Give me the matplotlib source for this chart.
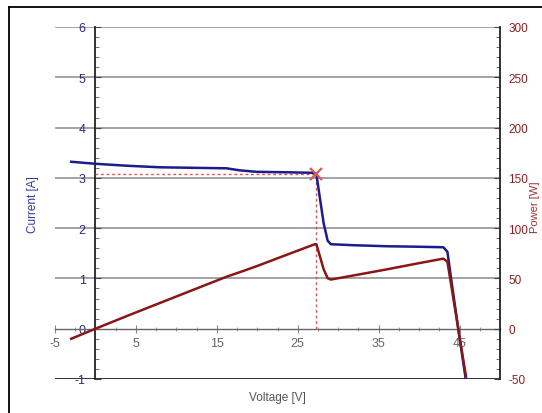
import matplotlib
matplotlib.use("Agg")
import matplotlib.pyplot as plt
from matplotlib.ticker import FixedLocator, MultipleLocator
from matplotlib.lines import Line2D

plt.rcParams['font.family'] = ['Liberation Sans', 'DejaVu Sans']

voltage = [-3.0, 0.0, 4.0, 8.0, 12.0, 16.2, 17.8, 19.9, 24.0, 27.0, 27.3, 27.6, 28.2,
           28.7, 29.1, 32.0, 36.0, 40.0, 43.0, 43.5, 44.0, 45.0, 45.8]
current = [3.32, 3.28, 3.24, 3.21, 3.20, 3.19, 3.15, 3.12, 3.11, 3.10, 3.08, 2.75, 2.10,
           1.75, 1.68, 1.66, 1.64, 1.63, 1.62, 1.53, 0.95, -0.18, -1.04]
power = [-10.0, 0.0, 13.0, 25.7, 38.4, 51.7, 56.1, 62.1, 74.6, 83.7, 84.1, 75.9, 59.2,
         50.2, 48.9, 53.1, 59.0, 65.2, 69.7, 66.6, 41.8, -8.1, -47.6]
mpp_v = 27.3
mpp_i = 3.08
x_ticks = [-5, 5, 15, 25, 35, 45]
i_ticks = [-1, 0, 1, 2, 3, 4, 5, 6]
p_ticks = [-50, 0, 50, 100, 150, 200, 250, 300]

BLUE = '#1c1c8c'
RED = '#8a1616'

fig = plt.figure(figsize=(5.42, 4.14), dpi=100)
ax = fig.add_axes([55/542, 1-380/414, 445/542, 352/414])
ax.set_xlim(-5, 50)
ax.set_ylim(-1, 6)

# gridlines
for yv in i_ticks[2:]:
    ax.axhline(yv, color='#949494', lw=1.2, zorder=0.5)
ax.axhline(-1, color='#222222', lw=1.3, zorder=3)

ax.spines['top'].set_visible(False)
ax.spines['right'].set_visible(False)
ax.spines['left'].set_position(('data', 0))
ax.spines['bottom'].set_position(('data', 0))
ax.spines['left'].set_color('#222222')
ax.spines['left'].set_linewidth(1.3)
ax.spines['bottom'].set_color('#666666')
ax.spines['bottom'].set_linewidth(1.0)

ax.xaxis.set_major_locator(FixedLocator(x_ticks))
ax.xaxis.set_minor_locator(MultipleLocator(2.5))
ax.yaxis.set_major_locator(FixedLocator(i_ticks))
ax.yaxis.set_minor_locator(MultipleLocator(0.2))
ax.set_xticklabels([str(t) for t in x_ticks])
ax.set_yticklabels([str(t) for t in i_ticks])
ax.tick_params(axis='x', which='major', direction='inout', length=6, width=0.8,
               colors='#888888', labelcolor='#666666', labelsize=9, pad=3)
ax.tick_params(axis='x', which='minor', direction='inout', length=3, width=0.6, colors='#888888')
ax.tick_params(axis='y', which='major', direction='in', length=4, width=0.8,
               colors='#444444', labelcolor='#2a2a80', labelsize=9, pad=7)
ax.tick_params(axis='y', which='minor', direction='in', length=3, width=0.6, colors='#555555')

ax.plot(voltage, current, color=BLUE, lw=1.8, zorder=4, solid_joinstyle='round')
ax.plot([0, mpp_v], [mpp_i, mpp_i], color='#e05555', lw=1.0, ls=(0, (2, 2)), zorder=3)
ax.plot([mpp_v, mpp_v], [0, mpp_i], color='#e05555', lw=1.0, ls=(0, (2, 2)), zorder=3)
ax.plot([mpp_v], [mpp_i], marker='x', color='#e05555', ms=8, mew=1.6, zorder=6)

ax2 = ax.twinx()
ax2.set_ylim(-50, 300)
for s in ['left', 'top', 'bottom']:
    ax2.spines[s].set_visible(False)
ax2.spines['right'].set_color('#222222')
ax2.spines['right'].set_linewidth(1.3)
ax2.yaxis.set_major_locator(FixedLocator(p_ticks))
ax2.yaxis.set_minor_locator(MultipleLocator(10))
ax2.set_yticklabels([str(t) for t in p_ticks])
ax2.tick_params(axis='y', which='major', direction='in', length=4, width=0.8,
                colors='#444444', labelcolor='#8a2020', labelsize=8.5, pad=6)
ax2.tick_params(axis='y', which='minor', direction='in', length=3, width=0.6, colors='#555555')
ax2.plot(voltage, power, color=RED, lw=1.8, zorder=5, solid_joinstyle='round')

fig.text(33/542, 1-205/414, 'Current [A]', rotation=90, ha='center', va='center',
         color='#3535a0', fontsize=8.5)
fig.text(535/542, 1-207/414, 'Power [W]', rotation=90, ha='center', va='center',
         color='#a03030', fontsize=8)
fig.text(277/542, 1-398/414, 'Voltage [V]', ha='center', va='center',
         color='#555555', fontsize=8.5)

# outer frame (left and top edges)
fig.add_artist(Line2D([9/542, 9/542], [0, 1-8/414], color='black', lw=1.3,
                      transform=fig.transFigure))
fig.add_artist(Line2D([9/542, 1], [1-8/414, 1-8/414], color='black', lw=1.3,
                      transform=fig.transFigure))

fig.savefig('out.png', dpi=100)
